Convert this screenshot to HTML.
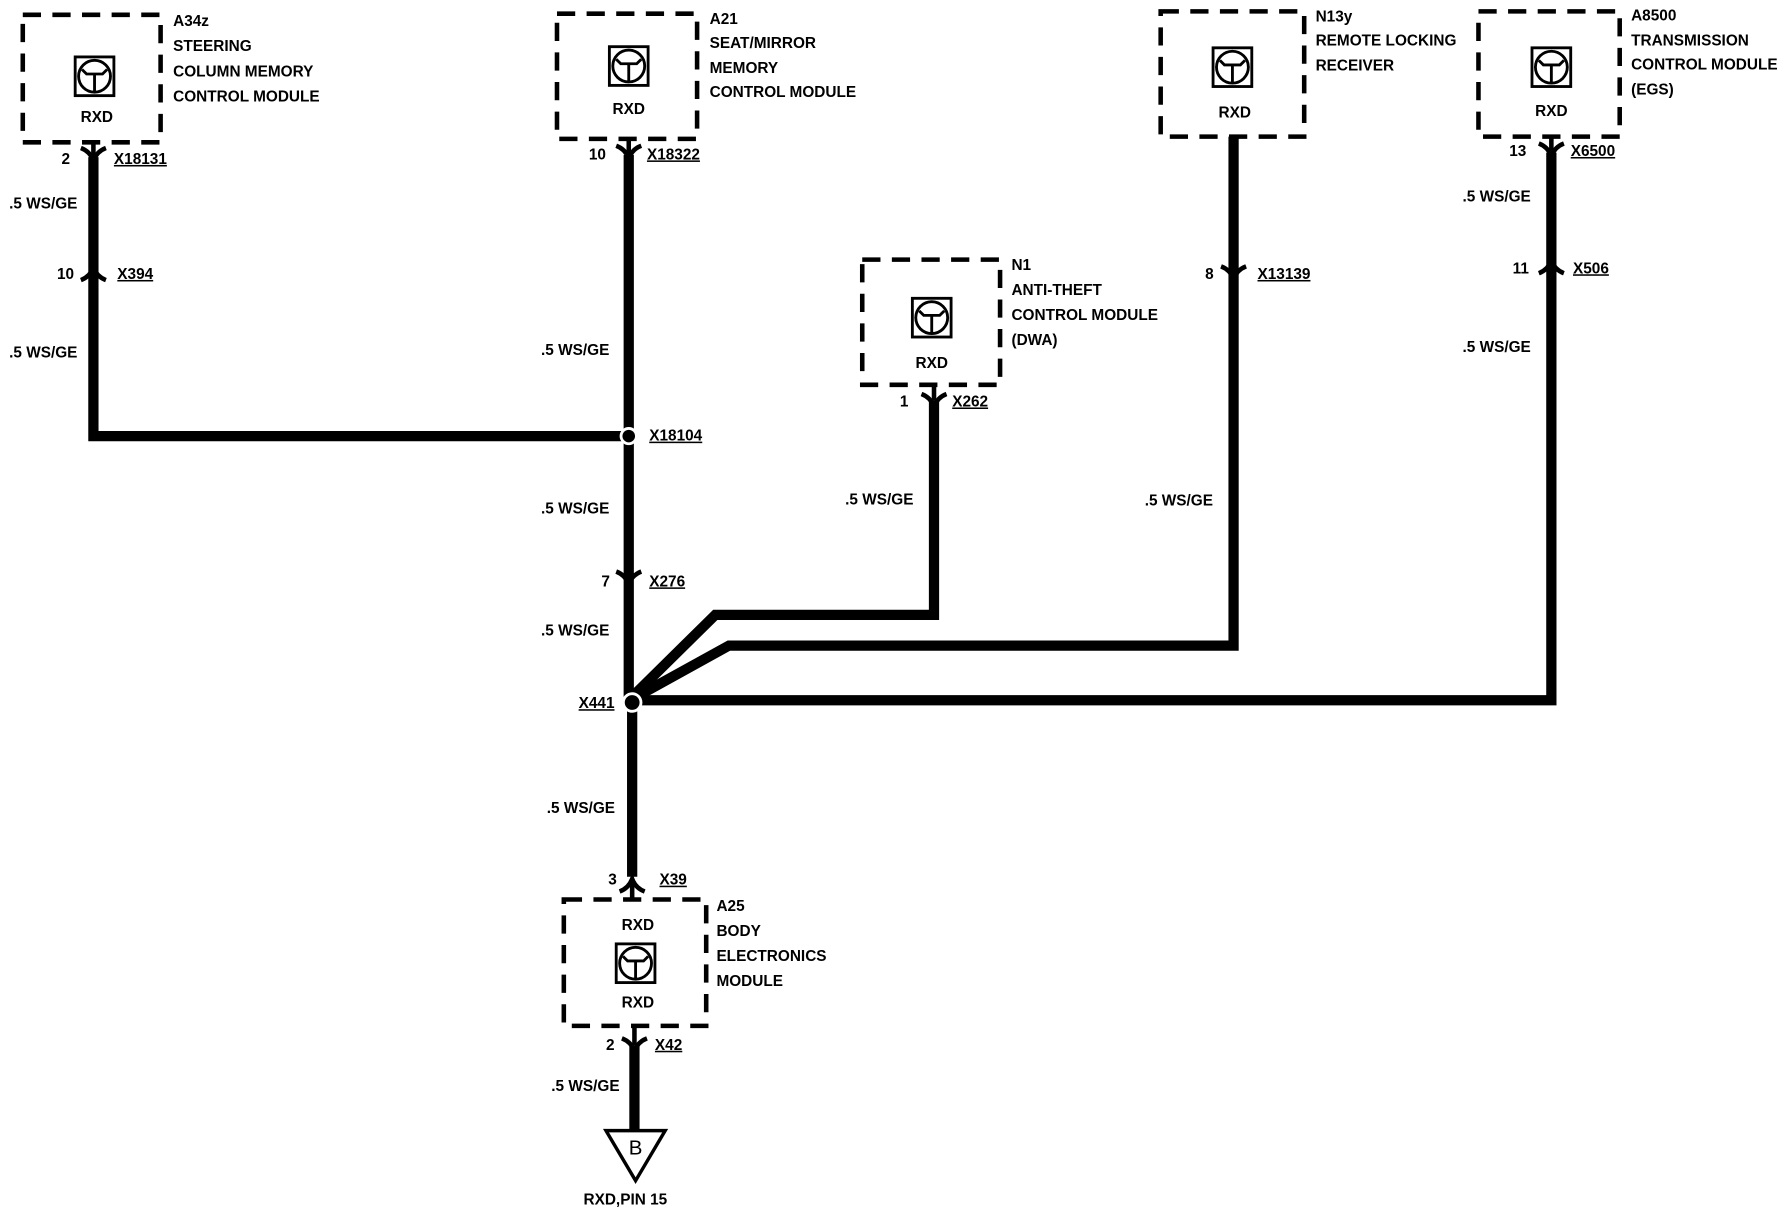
<!DOCTYPE html>
<html><head><meta charset="utf-8"><style>
html,body{margin:0;padding:0;background:#fff;}
svg{display:block;}
text{font-family:"Liberation Sans",sans-serif;font-weight:bold;font-size:13.5px;fill:#000;}
</style></head><body>
<svg width="1786" height="1216" viewBox="0 0 1568 1068" preserveAspectRatio="none" xmlns="http://www.w3.org/2000/svg">
<defs>
<g id="ic">
<rect x="-17" y="-17" width="34" height="34" fill="#fff" stroke="#000" stroke-width="2.5"/>
<circle cx="0" cy="0" r="14" fill="none" stroke="#000" stroke-width="2.5"/>
<path d="M-11,-6 L-7,-2 L7,-2 L11,-6 M0,-2 L0,14" fill="none" stroke="#000" stroke-width="2.5"/>
</g>
<path id="dn" d="M-11,-8 Q-3,-5 0,3 Q3,-5 11,-8" fill="none" stroke="#000" stroke-width="4"/>
<path id="up" d="M-11,8 Q-3,5 0,-3 Q3,5 11,8" fill="none" stroke="#000" stroke-width="4"/>
</defs>
<g fill="none" stroke="#000" stroke-width="4" stroke-dasharray="16,10">
<rect x="20" y="13" width="121" height="112"/>
<rect x="489" y="12" width="123" height="110"/>
<rect x="757" y="228" width="121" height="110"/>
<rect x="1019" y="10" width="126" height="110"/>
<rect x="1298" y="10" width="124" height="110"/>
<rect x="495" y="790" width="125" height="111"/>
</g>
<use href="#ic" x="83" y="67"/><use href="#ic" x="552" y="58"/><use href="#ic" x="818" y="279"/>
<use href="#ic" x="1082" y="59"/><use href="#ic" x="1362" y="59"/><use href="#ic" x="558" y="846"/>
<g fill="none" stroke="#000" stroke-width="9" stroke-linejoin="miter">
<path d="M82,138 V383 H552"/>
<path d="M552,136 V617 L555,620 V770"/>
<path d="M820,352 V540 H628 L555,612"/>
<path d="M1083,120 V567 H640 L555,614"/>
<path d="M1362,134 V615 H555"/>
<path d="M557,918 V995"/>
</g>
<g stroke="#000" stroke-width="4">
<line x1="82" y1="125" x2="82" y2="138"/><line x1="552" y1="122" x2="552" y2="136"/>
<line x1="1362" y1="120" x2="1362" y2="134"/><line x1="820" y1="338" x2="820" y2="352"/>
<line x1="557" y1="901" x2="557" y2="918"/><line x1="555" y1="775" x2="555" y2="790"/>
</g>
<use href="#dn" x="82" y="138"/><use href="#up" x="82" y="238"/>
<use href="#dn" x="552" y="136"/><use href="#dn" x="552" y="510"/>
<use href="#up" x="555" y="775"/><use href="#dn" x="820" y="354"/>
<use href="#dn" x="1083" y="242"/><use href="#dn" x="1362" y="134"/><use href="#up" x="1362" y="232"/>
<use href="#dn" x="557" y="920"/>
<circle cx="552" cy="383" r="8" fill="#fff"/><circle cx="552" cy="383" r="5.5" fill="#000"/>
<circle cx="555" cy="617" r="9" fill="#fff"/><circle cx="555" cy="617" r="6.5" fill="#000"/>
<path d="M532,993 L584,993 L558,1037 Z" fill="#fff" stroke="#000" stroke-width="3"/>
<text x="558" y="1014" text-anchor="middle" style="font-weight:normal;font-size:18px">B</text>
<g text-anchor="middle">
<text x="85" y="107">RXD</text><text x="552" y="100">RXD</text><text x="818" y="323">RXD</text>
<text x="1084" y="103">RXD</text><text x="1362" y="102">RXD</text>
<text x="560" y="817">RXD</text><text x="560" y="885">RXD</text>
<text x="549" y="1058">RXD,PIN 15</text>
</g>
<text x="152" y="23">A34z</text><text x="152" y="45">STEERING</text><text x="152" y="67">COLUMN MEMORY</text><text x="152" y="89">CONTROL MODULE</text>
<text x="623" y="21">A21</text><text x="623" y="42">SEAT/MIRROR</text><text x="623" y="64">MEMORY</text><text x="623" y="85">CONTROL MODULE</text>
<text x="888" y="237">N1</text><text x="888" y="259">ANTI-THEFT</text><text x="888" y="281">CONTROL MODULE</text><text x="888" y="303">(DWA)</text>
<text x="1155" y="19">N13y</text><text x="1155" y="40">REMOTE LOCKING</text><text x="1155" y="62">RECEIVER</text>
<text x="1432" y="18">A8500</text><text x="1432" y="40">TRANSMISSION</text><text x="1432" y="61">CONTROL MODULE</text><text x="1432" y="83">(EGS)</text>
<text x="629" y="800">A25</text><text x="629" y="822">BODY</text><text x="629" y="844">ELECTRONICS</text><text x="629" y="866">MODULE</text>
<g>
<text x="100" y="144" text-decoration="underline">X18131</text>
<text x="103" y="245" text-decoration="underline">X394</text>
<text x="568" y="140" text-decoration="underline">X18322</text>
<text x="570" y="387" text-decoration="underline">X18104</text>
<text x="570" y="515" text-decoration="underline">X276</text>
<text x="508" y="622" text-decoration="underline">X441</text>
<text x="579" y="777" text-decoration="underline">X39</text>
<text x="575" y="922" text-decoration="underline">X42</text>
<text x="836" y="357" text-decoration="underline">X262</text>
<text x="1104" y="245" text-decoration="underline">X13139</text>
<text x="1379" y="137" text-decoration="underline">X6500</text>
<text x="1381" y="240" text-decoration="underline">X506</text>
</g>
<text x="54" y="144">2</text><text x="50" y="245">10</text><text x="517" y="140">10</text>
<text x="528" y="515">7</text><text x="534" y="777">3</text><text x="532" y="922">2</text>
<text x="790" y="357">1</text><text x="1058" y="245">8</text><text x="1325" y="137">13</text><text x="1328" y="240">11</text>
<text x="8" y="183">.5 WS/GE</text><text x="8" y="314">.5 WS/GE</text>
<text x="475" y="312">.5 WS/GE</text><text x="475" y="451">.5 WS/GE</text><text x="475" y="558">.5 WS/GE</text>
<text x="480" y="714">.5 WS/GE</text><text x="484" y="958">.5 WS/GE</text>
<text x="742" y="443">.5 WS/GE</text><text x="1005" y="444">.5 WS/GE</text>
<text x="1284" y="177">.5 WS/GE</text><text x="1284" y="309">.5 WS/GE</text>
</svg>
</body></html>
